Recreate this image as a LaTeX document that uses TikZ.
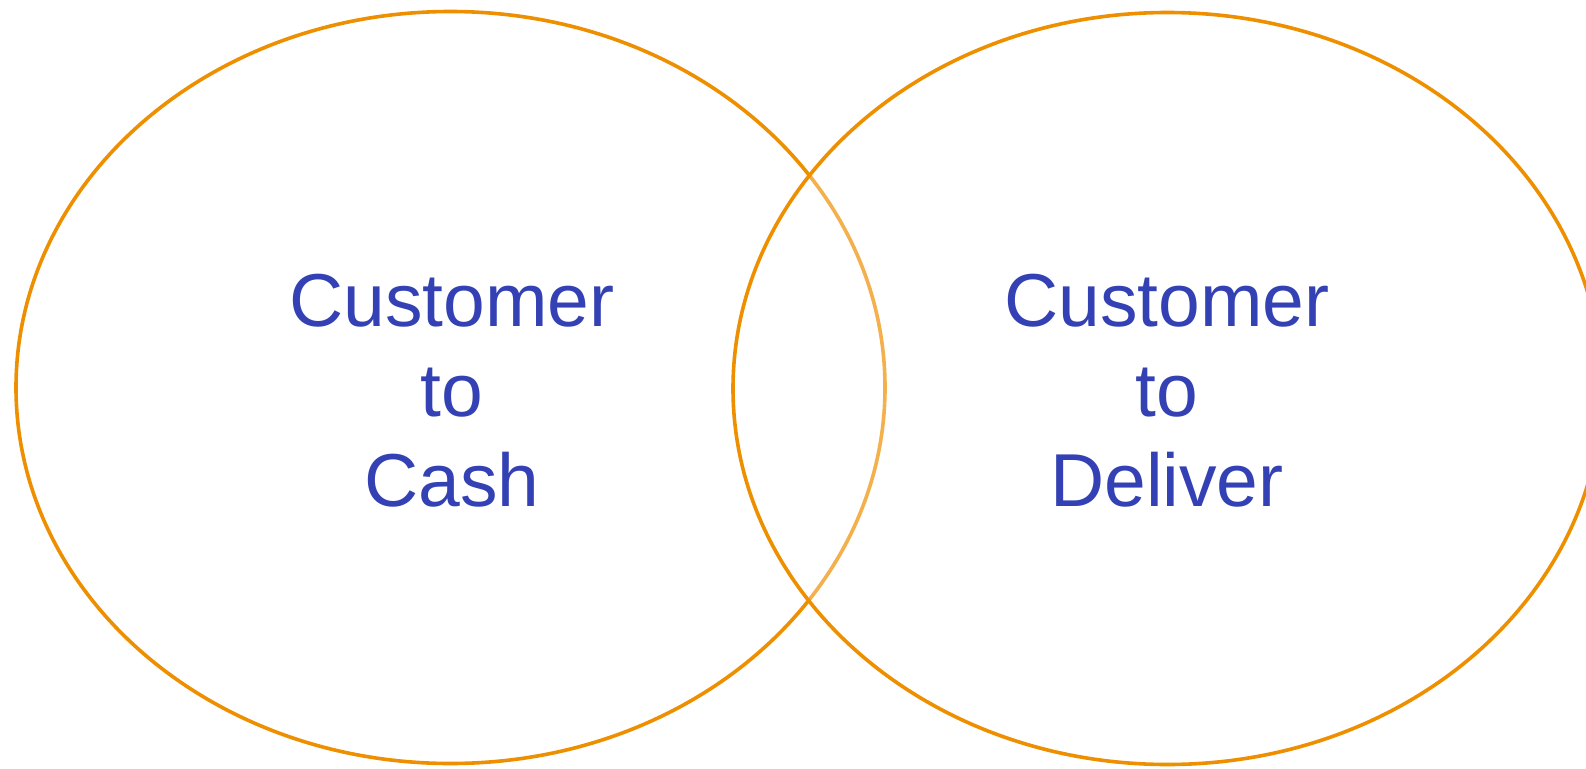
\documentclass[tikz,border=0pt]{standalone}
\usepackage{fontspec}
\setmainfont{Liberation Sans}
\usetikzlibrary{shapes.geometric}
\definecolor{ringorange}{RGB}{238,143,0}
\definecolor{textblue}{RGB}{51,65,180}
\begin{document}
\begin{tikzpicture}[x=1pt,y=-1pt,
  ring/.style={ellipse,draw=ringorange,line width=3.6pt,minimum width=869pt,minimum height=752pt,inner sep=0pt,outer sep=0pt},
  label/.style={align=center,text=textblue,font=\fontsize{75}{90}\selectfont,inner sep=0pt}]
\useasboundingbox (0,0) rectangle (1586,768);
\clip (0,0) rectangle (1586,768);
\node[ring] (left) at (450.5,387.5) {};
\node[ring,fill=white,fill opacity=0.3] (right) at (1167.5,388.5) {};
\node[label] (lt) at (452,390.5) {Customer\\to\\Cash};
\node[label] (rt) at (1167,390.5) {Customer\\to\\Deliver};
\end{tikzpicture}
\end{document}
